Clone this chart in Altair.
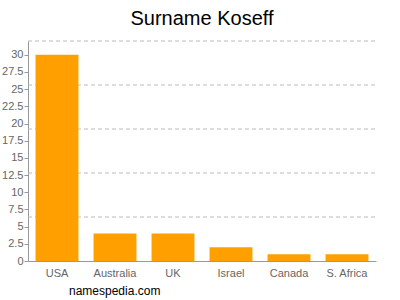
import altair as alt
import pandas as pd

countries = ["USA", "Australia", "UK", "Israel", "Canada", "S. Africa"]
counts = [30, 4, 4, 2, 1, 1]
y_ticks = [0, 2.5, 5, 7.5, 10, 12.5, 15, 17.5, 20, 22.5, 25, 27.5, 30]
grid_vals = [6.4, 12.8, 19.2, 25.6, 32]

df = pd.DataFrame({"country": countries, "count": counts})
gdf = pd.DataFrame({"g": grid_vals})
wdf = pd.DataFrame({"t": ["namespedia.com"]})

FONT = "Liberation Sans"
ysc = alt.Scale(domain=[0, 32], nice=False)
yaxis = alt.Axis(values=y_ticks, grid=False, labelColor="#666666", labelFontSize=11,
                 labelFont=FONT, domainColor="#999999", tickColor="#999999",
                 tickSize=4, labelPadding=1, labelExpr="toString(datum.value)",
                 labelOverlap=False)

grid = alt.Chart(gdf).mark_rule(color="#bbbbbb", strokeDash=[4, 3], strokeWidth=1).encode(
    y=alt.Y("g:Q", scale=ysc, axis=yaxis, title=None),
    x=alt.value(0), x2=alt.value(348),
)

bars = alt.Chart(df).mark_bar(color="#FFA000").encode(
    x=alt.X("country:N", sort=countries, title=None,
            scale=alt.Scale(paddingInner=0.26, paddingOuter=0.13),
            axis=alt.Axis(labelAngle=0, labelColor="#666666", labelFontSize=11, labelFont=FONT,
                          domainColor="#999999", ticks=False, labelPadding=6)),
    y=alt.Y("count:Q", scale=ysc, title=None, axis=yaxis),
)

wm = alt.Chart(wdf).mark_text(align="left", baseline="middle", fontSize=12, font=FONT, color="#000000").encode(
    text="t:N", x=alt.value(41), y=alt.value(250),
)

chart = alt.layer(grid, bars, wm).properties(
    width=348, height=220,
    title=alt.TitleParams("Surname Koseff", fontSize=20, font=FONT, fontWeight="normal",
                          color="#000000", anchor="middle", offset=12),
    autosize=alt.AutoSizeParams(type="none"),
    padding={"left": 28, "top": 41, "right": 24, "bottom": 39},
).configure_view(stroke=None)

chart.save("out.html", embed_options={"renderer": "svg", "actions": False})
